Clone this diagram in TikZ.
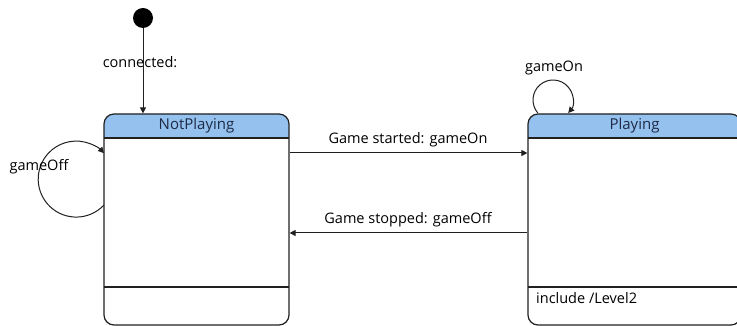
\documentclass[tikz,border=0pt]{standalone}
\usepackage{fontspec}
\setmainfont{Open Sans}
\usetikzlibrary{arrows.meta}
\definecolor{hdr}{HTML}{94C1EE}
\definecolor{ln}{HTML}{202020}
\definecolor{ttl}{HTML}{1E2A44}
\tikzset{
  lbl/.style={font=\fontsize{14.5}{16}\selectfont, text=black, inner sep=0pt},
  ttlstyle/.style={font=\fontsize{15}{17}\selectfont, text=ttl, inner sep=0pt},
  tip/.style={-{Triangle[length=6pt,width=6pt]}},
  conn/.style={draw=ln, line width=1pt, tip},
  statebox/.style={draw=ln, line width=1.2pt, rounded corners=10pt, inner sep=0pt},
}
\begin{document}
\begin{tikzpicture}[x=1pt,y=1pt]
\useasboundingbox (0,0) rectangle (737,326);
\clip (0,0) rectangle (737,326);
% NotPlaying
\fill[hdr] (104,188) [rounded corners=10pt] -- (104,212) -- (289,212) [sharp corners] -- (289,188) -- cycle;
\node[statebox, minimum width=185pt, minimum height=211pt] (np) at (196.5,106.5) {};
\draw[ln, line width=1.2pt] (104,188) -- (289,188);
\draw[ln, line width=1.2pt] (104,39) -- (289,39);
\node[ttlstyle] (npt) at (196.5,200) {NotPlaying};
% Playing
\fill[hdr] (528,188) [rounded corners=10pt] -- (528,212) -- (741,212) [sharp corners] -- (741,188) -- cycle;
\node[statebox, minimum width=213pt, minimum height=211pt] (pl) at (634.5,106.5) {};
\draw[ln, line width=1.2pt] (528,188) -- (741,188);
\draw[ln, line width=1.2pt] (528,39) -- (741,39);
\node[ttlstyle] (plt) at (634.5,200) {Playing};
\node[lbl, anchor=west] (inc) at (536,28) {include /Level2};
% initial
\node[circle, fill=black, minimum size=20pt, inner sep=0pt] (init) at (143,308) {};
\draw[conn] (init.south) -- (init.south |- np.north);
\node[lbl] (lc) at (140,264) {connected:};
% transitions
\coordinate (s1) at (np.east |- 0,173);
\coordinate (e1) at (pl.west |- 0,173);
\draw[conn] (s1) -- (e1);
\node[lbl] (lgs) at (408,186) {Game started: gameOn};
\coordinate (s2) at (pl.west |- 0,93);
\coordinate (e2) at (np.east |- 0,93);
\draw[conn] (s2) -- (e2);
\node[lbl] (lgo) at (408,106) {Game stopped: gameOff};
% self loops
\coordinate (gs) at (104,121);
\draw[conn] (gs) arc[start angle=-43, end angle=-317, radius=38pt];
\node[lbl] (lgoff) at (39,159) {gameOff};
\coordinate (os) at (537.8,213);
\draw[conn] (os) arc[start angle=220.5, end angle=-40.5, radius=20pt];
\node[lbl] (lgon) at (554,258) {gameOn};
\end{tikzpicture}
\end{document}
